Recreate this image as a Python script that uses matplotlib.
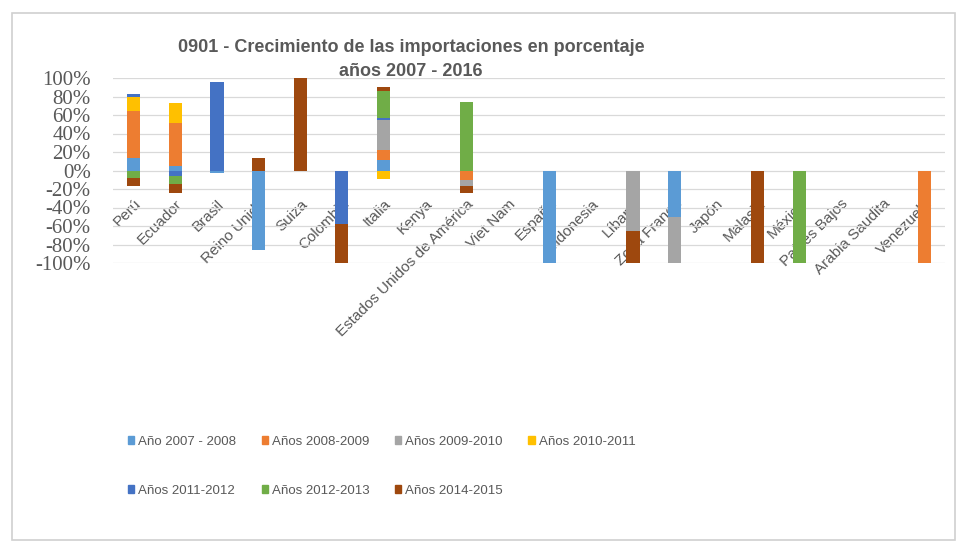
import matplotlib
matplotlib.use("Agg")
import matplotlib.pyplot as plt
import numpy as np
from matplotlib.patches import Rectangle, Patch

paises = ["Perú", "Ecuador", "Brasil", "Reino Unido", "Suiza", "Colombia", "Italia",
          "Kenya", "Estados Unidos de América", "Viet Nam", "España", "Indonesia",
          "Líbano", "Zona Franca", "Japón", "Malasia", "México", "Países Bajos",
          "Arabia Saudita", "Venezuela"]

series = ["Año 2007 - 2008", "Años 2008-2009", "Años 2009-2010", "Años 2010-2011",
          "Años 2011-2012", "Años 2012-2013", "Años 2014-2015"]

colores = ["#5B9BD5", "#ED7D31", "#A5A5A5", "#FFC000", "#4472C4", "#70AD47", "#9E480E"]

# crecimiento en porcentaje, un valor por pais
a2007_2008 = [13, 5, -3, -86, 0, 0, 11, 0, 0, 0, -100, 0, 0, -50, 0, 0, 0, 0, 0, 0]
a2008_2009 = [51, 46, 0, 0, 0, 0, 11, 0, -10, 0, 0, 0, 0, 0, 0, 0, 0, 0, 0, -100]
a2009_2010 = [0, 0, 0, 0, 0, 0, 33, 0, -7, 0, 0, 0, -65, -50, 0, 0, 0, 0, 0, 0]
a2010_2011 = [16, 22, 0, 0, 0, 0, -9, 0, 0, 0, 0, 0, 0, 0, 0, 0, 0, 0, 0, 0]
a2011_2012 = [3, -6, 96, 0, 0, -58, 2, 0, 0, 0, 0, 0, 0, 0, 0, 0, 0, 0, 0, 0]
a2012_2013 = [-8, -9, 0, 0, 0, 0, 29, 0, 74, 0, 0, 0, 0, 0, 0, 0, -100, 0, 0, 0]
a2014_2015 = [-9, -9, 0, 14, 100, -42, 4, 0, -7, 0, 0, 0, -35, 0, 0, -100, 0, 0, 0, 0]

datos = [a2007_2008, a2008_2009, a2009_2010, a2010_2011, a2011_2012, a2012_2013, a2014_2015]

gris = "#595959"

fig = plt.figure(figsize=(9.59, 5.46), dpi=100)
fig.patches.append(Rectangle((12 / 959, 6 / 546), 943 / 959, 527 / 546,
                             transform=fig.transFigure, fill=False,
                             edgecolor="#d0d0d0", lw=1.2))

ax = fig.add_axes([113 / 959, 283 / 546, 832 / 959, 185 / 546])

x = np.arange(len(paises))
pos = np.zeros(len(paises))
neg = np.zeros(len(paises))
for vals, col in zip(datos, colores):
    v = np.array(vals) / 100.0
    base = np.where(v >= 0, pos, neg)
    ax.bar(x, v, bottom=base, width=0.32, color=col, zorder=3)
    pos = pos + np.where(v > 0, v, 0)
    neg = neg + np.where(v < 0, v, 0)

ax.set_xlim(-0.5, len(paises) - 0.5)
ax.set_ylim(-1.0, 1.0)
ax.set_yticks(np.arange(-1.0, 1.01, 0.2))
ax.set_yticklabels(["%d%%" % round(t * 100) for t in np.arange(-1.0, 1.01, 0.2)],
                   family="Liberation Serif", fontsize=15, color=gris)
ax.yaxis.grid(True, color="#d9d9d9", lw=0.9, zorder=0)
ax.tick_params(axis="y", length=0, pad=16)

ax.spines["bottom"].set_position(("data", 0))
for s in ax.spines.values():
    s.set_visible(False)
ax.set_xticks(x)
ax.set_xticklabels(paises, rotation=45, ha="right", rotation_mode="anchor",
                   family="Liberation Sans", fontsize=11, color=gris)
ax.tick_params(axis="x", length=0, pad=19)

fig.text(411 / 959, 1 - 48 / 546, "0901 - Crecimiento de las importaciones en porcentaje",
         ha="center", va="center", fontsize=13, fontweight="bold", color=gris,
         family="Liberation Sans")
fig.text(411 / 959, 1 - 72 / 546, "años 2007 - 2016",
         ha="center", va="center", fontsize=13, fontweight="bold", color=gris,
         family="Liberation Sans")

# orden por filas: la leyenda de matplotlib se llena por columnas
orden = [0, 4, 1, 5, 2, 6, 3]
handles = [Patch(color=colores[i]) for i in orden]
etiquetas = [series[i] for i in orden]
fig.legend(handles, etiquetas, ncol=4, loc="upper left",
           bbox_to_anchor=(116 / 959, 1 - 424 / 546), frameon=False,
           handlelength=0.5, handleheight=0.5, handletextpad=0.3,
           columnspacing=1.9, labelspacing=2.8,
           prop={"family": "Liberation Sans", "size": 9.5}, labelcolor=gris)

fig.savefig("out.png", dpi=100)
